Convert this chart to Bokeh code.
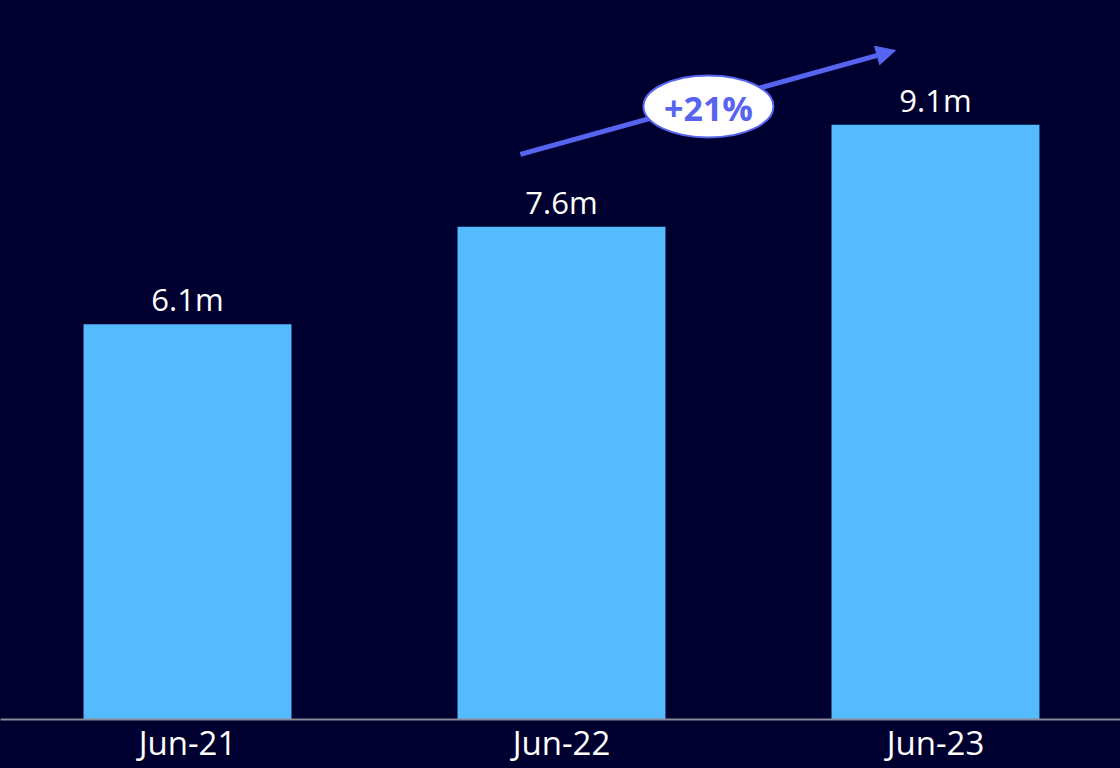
from bokeh.plotting import figure
from bokeh.models import ColumnDataSource, Arrow, NormalHead, GlobalInlineStyleSheet
from bokeh.core.properties import value
from bokeh.embed import file_html
from bokeh.resources import INLINE

# ---- data ----
categories = ["Jun-21", "Jun-22", "Jun-23"]
values = [6.08, 7.58, 9.15]
value_labels = ["6.1m", "7.6m", "9.1m"]
growth_label = "+21%"

BG = "#000030"
BAR = "#55BBFF"
ACCENT = "#5764F0"
FONT = "Open Sans"

xs = list(range(len(categories)))
src = ColumnDataSource(dict(x=xs, top=values, lab=value_labels))

p = figure(
    width=1120, height=768,
    x_range=(-0.5, 2.4947), y_range=(0, 11.06),
    output_backend="svg", toolbar_location=None,
    background_fill_color=BG, border_fill_color=BG,
    min_border_left=0, min_border_right=0, min_border_top=0, min_border_bottom=49,
)
p.outline_line_color = None
p.xgrid.visible = False
p.ygrid.visible = False
p.yaxis.visible = False

p.vbar(x="x", top="top", width=0.556, bottom=0, source=src,
       fill_color=BAR, line_color=None)

p.text(x="x", y="top", text="lab", source=src, y_offset=-4,
       text_align="center", text_baseline="bottom",
       text_color="white", text_font=value(FONT), text_font_size="31px")

# x axis
p.xaxis.ticker = xs
p.xaxis.major_label_overrides = {i: c for i, c in enumerate(categories)}
p.xaxis.axis_line_color = "#8a8a99"
p.xaxis.axis_line_width = 2
p.xaxis.major_tick_line_color = None
p.xaxis.minor_tick_line_color = None
p.xaxis.major_tick_out = 0
p.xaxis.major_tick_in = 0
p.xaxis.major_label_standoff = 0
p.xaxis.major_label_text_color = "white"
p.xaxis.major_label_text_font = FONT
p.xaxis.major_label_text_font_size = "33px"

# growth arrow (drawn beneath the ellipse badge)
arrow = Arrow(x_start=0.890, y_start=8.692, x_end=1.893, y_end=10.292,
              line_color=ACCENT, line_width=5,
              end=NormalHead(size=19, fill_color=ACCENT, line_color=ACCENT, line_width=1),
              level="underlay")
p.add_layout(arrow)

p.ellipse(x=[1.393], y=[9.431], width=130, height=62,
          width_units="screen", height_units="screen",
          fill_color="white", line_color=ACCENT, line_width=2)
p.text(x=[1.393], y=[9.431], text=[growth_label], y_offset=2,
       text_align="center", text_baseline="middle",
       text_color=ACCENT, text_font=value(FONT), text_font_style="bold",
       text_font_size="34px")

p.stylesheets = [GlobalInlineStyleSheet(css="html, body { background-color: #000030; }")]

open("out.html", "w").write(file_html(p, INLINE))
